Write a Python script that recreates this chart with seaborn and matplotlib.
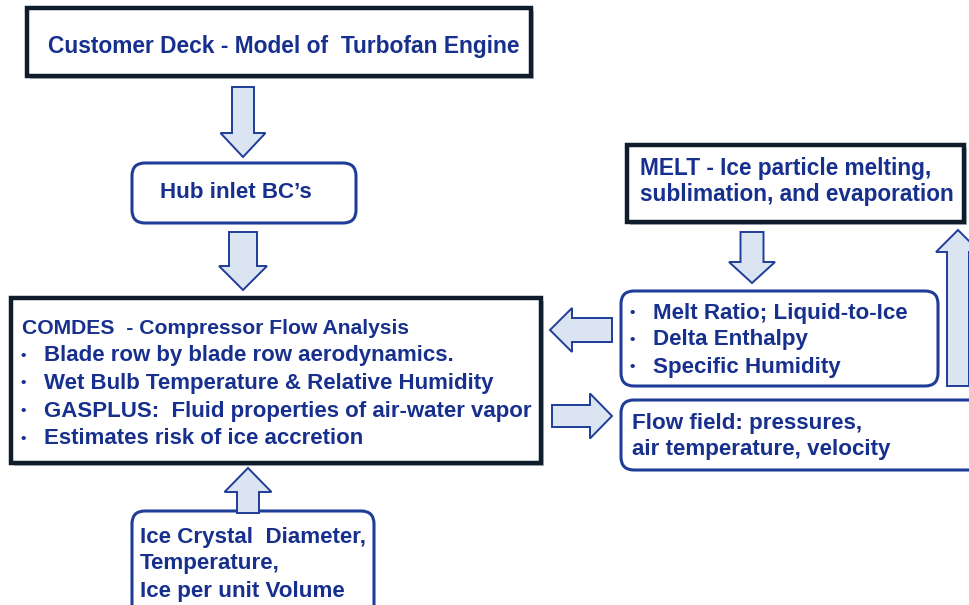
import matplotlib
matplotlib.use("Agg")
import matplotlib.pyplot as plt
import matplotlib.patches as mpatches
import seaborn as sns

sns.set_style("white")
plt.rcParams['font.family'] = ['Liberation Sans', 'DejaVu Sans']

# box texts
deck_text = ["Customer Deck - Model of  Turbofan Engine"]
hub_text = ["Hub inlet BC\u2019s"]
comdes_title = "COMDES  - Compressor Flow Analysis"
comdes_bullets = ["Blade row by blade row aerodynamics.",
                  "Wet Bulb Temperature & Relative Humidity",
                  "GASPLUS:  Fluid properties of air-water vapor",
                  "Estimates risk of ice accretion"]
melt_text = ["MELT - Ice particle melting,", "sublimation, and evaporation"]
melt_bullets = ["Melt Ratio; Liquid-to-Ice", "Delta Enthalpy", "Specific Humidity"]
flow_text = ["Flow field: pressures,", "air temperature, velocity"]
ice_text = ["Ice Crystal  Diameter,", "Temperature,", "Ice per unit Volume"]

TXT = '#17308e'
DARK = '#0f1c2c'
BLUE = '#1f3d98'
FILL = '#dbe5f1'

fig = plt.figure(figsize=(9.69, 6.05), dpi=100)
ax = fig.add_axes([0, 0, 1, 1])
ax.set_xlim(0, 969)
ax.set_ylim(605, 0)
ax.axis('off')


def square_box(x0, y0, x1, y1):
    ax.add_patch(mpatches.Rectangle((x0 + 3, y0 + 3), x1 - x0, y1 - y0,
                                    facecolor='#b8bcc4', edgecolor='none', zorder=1))
    ax.add_patch(mpatches.Rectangle((x0, y0), x1 - x0, y1 - y0,
                                    facecolor='white', edgecolor=DARK, lw=3.2, zorder=2))


def round_box(x0, y0, x1, y1):
    ax.add_patch(mpatches.FancyBboxPatch((x0, y0), x1 - x0, y1 - y0,
                                         boxstyle="round,pad=0,rounding_size=13",
                                         facecolor='white', edgecolor=BLUE, lw=2.2, zorder=2))


def lines(x, y0, dy, items, size=16.1, bullet=False, bx=None):
    for i, s in enumerate(items):
        y = y0 + i * dy + 2
        if bullet:
            ax.text(bx, y, "\u2022", color=TXT, fontsize=11,
                    fontweight='bold', va='center', ha='left', zorder=3)
        ax.text(x, y, s, color=TXT, fontsize=size, fontweight='bold',
                va='center', ha='left', zorder=3)


def arrow(x, y, dx, dy, w, hw, hl):
    ax.add_patch(mpatches.FancyArrow(x, y, dx, dy, width=w, head_width=hw,
                                     head_length=hl, length_includes_head=True,
                                     facecolor=FILL, edgecolor=BLUE, lw=1.4, zorder=2))


# boxes
square_box(27, 8, 531, 76)
lines(48, 45, 0, deck_text, size=16.4)

round_box(132, 163, 356, 223)
lines(160, 191, 0, hub_text)

square_box(11, 298, 541, 463)
lines(22, 327, 0, [comdes_title], size=15.2)
lines(44, 354, 27.5, comdes_bullets, size=16.0, bullet=True, bx=21)

square_box(627, 145, 964, 222)
lines(640, 166, 27, melt_text, size=16.3)

round_box(621, 291, 938, 386)
lines(653, 311, 27, melt_bullets, bullet=True, bx=630)

round_box(621, 400, 985, 470)
lines(632, 422, 25.5, flow_text)

round_box(132, 511, 374, 625)
lines(140, 535, 27, ice_text)

# arrows
arrow(243, 87, 0, 70, 22, 45, 24)
arrow(243, 232, 0, 58, 28, 48, 24)
arrow(612, 330, -62, 0, 24, 44, 22)
arrow(552, 416, 60, 0, 22, 45, 22)
arrow(752, 232, 0, 51, 23, 46, 21)
arrow(958, 386, 0, -156, 22, 44, 22)
arrow(248, 513, 0, -45, 22, 47, 24)

plt.savefig("out.png", dpi=100)
